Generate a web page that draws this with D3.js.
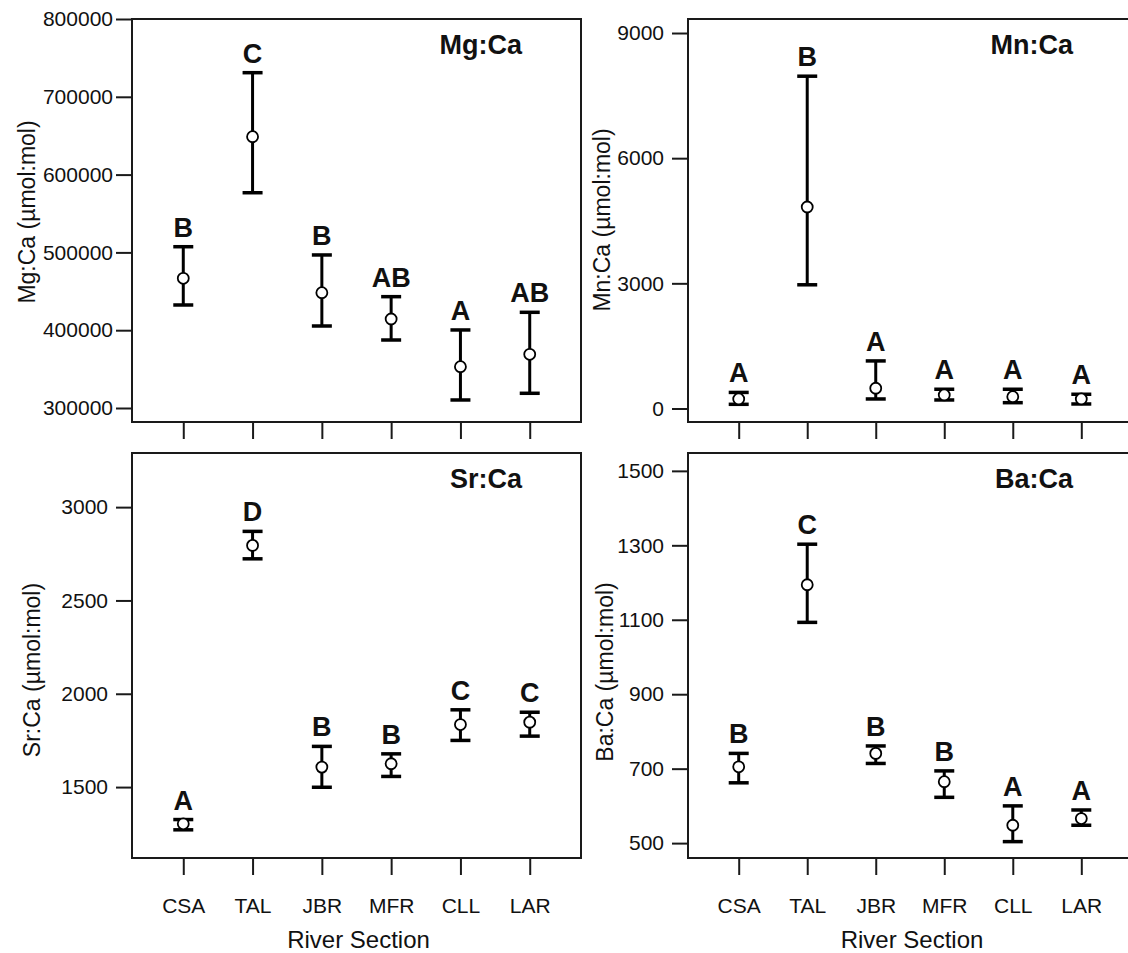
<!DOCTYPE html>
<html>
<head>
<meta charset="utf-8">
<script src="https://cdn.jsdelivr.net/npm/d3@7/dist/d3.min.js"></script>
<style>
  html, body { margin: 0; padding: 0; background: #fff; }
  svg { display: block; }
  text { font-family: "Liberation Sans", Arial, sans-serif; fill: #111; }
</style>
</head>
<body>
<svg id="chart" width="1128" height="953"></svg>
<script>
// River sections on the x axis
const categories = ["CSA", "TAL", "JBR", "MFR", "CLL", "LAR"];

// Mg:Ca — means with 95% CI bounds and Tukey groups
const mgMean = [466700, 648700, 448200, 414400, 353100, 369000];
const mgLow = [432400, 576700, 405400, 387400, 310300, 318900];
const mgHigh = [507300, 731000, 496700, 443100, 400300, 423000];
const mgGroups = ["B", "C", "B", "AB", "A", "AB"];
const mgTicks = [300000, 400000, 500000, 600000, 700000, 800000];

// Mn:Ca
const mnMean = [228, 4830, 485, 324, 283, 228];
const mnLow = [100, 2965, 228, 204, 139, 108];
const mnHigh = [385, 7965, 1140, 461, 461, 341];
const mnGroups = ["A", "B", "A", "A", "A", "A"];
const mnTicks = [0, 3000, 6000, 9000];

// Sr:Ca
const srMean = [1303, 2795, 1607, 1625, 1835, 1848];
const srLow = [1271, 2723, 1499, 1557, 1750, 1773];
const srHigh = [1326, 2870, 1718, 1678, 1914, 1901];
const srGroups = ["A", "D", "B", "B", "C", "C"];
const srTicks = [1500, 2000, 2500, 3000];

// Ba:Ca
const baMean = [705, 1194, 741, 665, 548, 566];
const baLow = [662, 1093, 714, 623, 504, 548];
const baHigh = [741, 1303, 761, 694, 600, 589];
const baGroups = ["B", "C", "B", "B", "A", "A"];
const baTicks = [500, 700, 900, 1100, 1300, 1500];

const panels = [
  { title: "Mg:Ca", ylabel: "Mg:Ca (µmol:mol)", mean: mgMean, low: mgLow, high: mgHigh, groups: mgGroups, ticks: mgTicks,
    domain: [282000, 800000], box: [132, 19, 581, 422], ylabPos: [27, 212], xLabels: false, tickPad: 3 },
  { title: "Mn:Ca", ylabel: "Mn:Ca (µmol:mol)", mean: mnMean, low: mnLow, high: mnHigh, groups: mnGroups, ticks: mnTicks,
    domain: [-324, 9336], box: [688, 19, 1132, 422], ylabPos: [602, 220], xLabels: false, tickPad: 8 },
  { title: "Sr:Ca", ylabel: "Sr:Ca (µmol:mol)", mean: srMean, low: srLow, high: srHigh, groups: srGroups, ticks: srTicks,
    domain: [1120, 3290], box: [132, 453, 581, 858], ylabPos: [32, 670], xLabels: true, tickPad: 8 },
  { title: "Ba:Ca", ylabel: "Ba:Ca (µmol:mol)", mean: baMean, low: baLow, high: baHigh, groups: baGroups, ticks: baTicks,
    domain: [460, 1548], box: [688, 453, 1132, 858], ylabPos: [605, 672], xLabels: true, tickPad: 8 }
];

const svg = d3.select("#chart");

panels.forEach(p => {
  const [x0, y0, x1, y1] = p.box;
  const x = d3.scaleLinear().domain([-0.74, 5.74]).range([x0, x1]);
  const y = d3.scaleLinear().domain(p.domain).range([y1, y0]);
  const g = svg.append("g");

  // frame
  g.append("rect")
    .attr("x", x0).attr("y", y0)
    .attr("width", x1 - x0).attr("height", y1 - y0)
    .attr("fill", "none").attr("stroke", "#1a1a1a").attr("stroke-width", 2);

  // y axis
  const yAxis = d3.axisLeft(y).tickValues(p.ticks).tickSize(16).tickPadding(p.tickPad).tickFormat(d3.format("d"));
  const ya = g.append("g").attr("transform", `translate(${x0},0)`).call(yAxis);
  ya.select(".domain").remove();
  ya.selectAll(".tick line").attr("stroke", "#1a1a1a").attr("stroke-width", 2);
  ya.selectAll(".tick text").attr("font-size", 21).attr("font-family", "Liberation Sans, Arial, sans-serif").attr("fill", "#222");

  // x axis
  const xAxis = d3.axisBottom(x).tickValues(d3.range(categories.length)).tickSize(17).tickPadding(23)
    .tickFormat(i => p.xLabels ? categories[i] : "");
  const xa = g.append("g").attr("transform", `translate(0,${y1})`).call(xAxis);
  xa.select(".domain").remove();
  xa.selectAll(".tick line").attr("stroke", "#1a1a1a").attr("stroke-width", 2);
  xa.selectAll(".tick text").attr("font-size", 21).attr("font-family", "Liberation Sans, Arial, sans-serif").attr("fill", "#222");

  // y axis title
  g.append("text")
    .attr("transform", `translate(${p.ylabPos[0]},${p.ylabPos[1]}) rotate(-90)`)
    .attr("text-anchor", "middle").attr("dominant-baseline", "central")
    .attr("font-size", 23).attr("fill", "#222")
    .text(p.ylabel);

  // panel title
  g.append("text")
    .attr("x", x1 - 59).attr("y", y0 + 35)
    .attr("text-anchor", "end")
    .attr("font-size", 27).attr("font-weight", "bold")
    .text(p.title);

  const idx = d3.range(categories.length);

  // error bars
  g.selectAll(".bar").data(idx).join("line")
    .attr("x1", i => x(i)).attr("x2", i => x(i))
    .attr("y1", i => y(p.low[i])).attr("y2", i => y(p.high[i]))
    .attr("stroke", "#000").attr("stroke-width", 3);
  ["low", "high"].forEach(k => {
    g.selectAll(".cap-" + k).data(idx).join("line")
      .attr("x1", i => x(i) - 10).attr("x2", i => x(i) + 10)
      .attr("y1", i => y(p[k][i])).attr("y2", i => y(p[k][i]))
      .attr("stroke", "#000").attr("stroke-width", 3.5);
  });

  // mean markers
  g.selectAll(".mean").data(idx).join("circle")
    .attr("cx", i => x(i)).attr("cy", i => y(p.mean[i]))
    .attr("r", 5.5).attr("fill", "#fff").attr("stroke", "#000").attr("stroke-width", 1.8);

  // group letters
  g.selectAll(".grp").data(idx).join("text")
    .attr("x", i => x(i)).attr("y", i => y(p.high[i]) - 10)
    .attr("text-anchor", "middle")
    .attr("font-size", 27).attr("font-weight", "bold")
    .text(i => p.groups[i]);

  // x axis title
  if (p.xLabels) {
    g.append("text")
      .attr("x", (x0 + x1) / 2 + 2).attr("y", 948)
      .attr("text-anchor", "middle")
      .attr("font-size", 24).attr("fill", "#222")
      .text("River Section");
  }
});
</script>
</body>
</html>
